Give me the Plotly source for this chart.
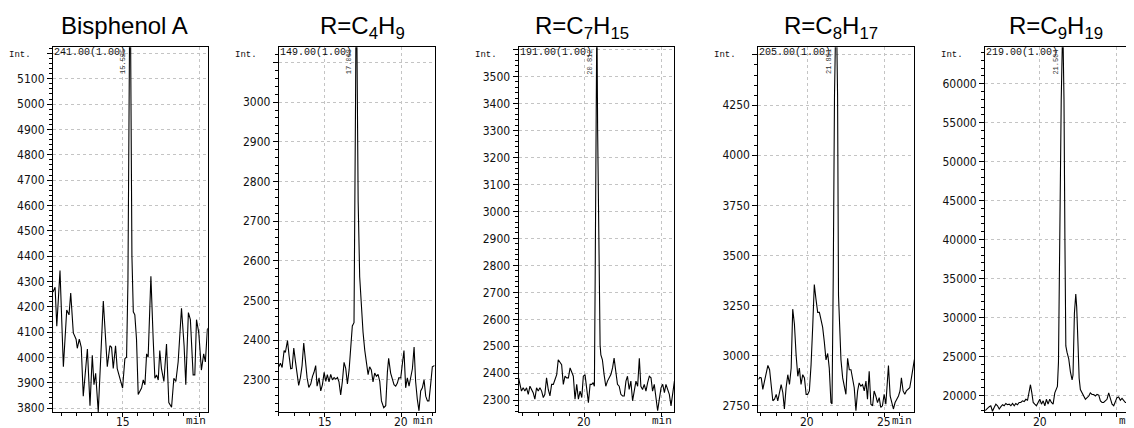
import plotly.graph_objects as go

# ---------------- data ----------------
titles = ["Bisphenol A", "R=C<sub>4</sub>H<sub>9</sub>", "R=C<sub>7</sub>H<sub>15</sub>",
          "R=C<sub>8</sub>H<sub>17</sub>", "R=C<sub>9</sub>H<sub>19</sub>"]
ion_labels = ["241.00(1.00)", "149.00(1.00)", "191.00(1.00)", "205.00(1.00)", "219.00(1.00)"]
peak_labels = ["15.525", "17.068", "20.812", "21.891", "21.504"]
peak_times = [15.49, 17.06, 20.81, 21.89, 21.50]

# Bisphenol A (m/z 241)
t_bpa = [10.45, 10.59, 10.70, 10.91, 11.13, 11.35, 11.50, 11.61, 11.78, 11.96, 12.04, 12.17,
         12.30, 12.43, 12.70, 12.87, 13.02, 13.13, 13.24, 13.41, 13.74, 14.00, 14.17, 14.28,
         14.39, 14.54, 14.65, 14.83, 15.00, 15.15, 15.26, 15.35, 15.43, 15.49, 15.55, 15.61,
         15.70, 15.80, 15.91, 16.02, 16.24, 16.35, 16.46, 16.57, 16.67, 16.85, 17.00, 17.11,
         17.22, 17.33, 17.43, 17.54, 17.70, 17.87, 18.02, 18.20, 18.35, 18.48, 18.63, 18.85,
         19.02, 19.13, 19.30, 19.43, 19.61, 19.72, 19.83, 19.98, 20.15, 20.30, 20.41, 20.54,
         20.65]
i_bpa = [4258, 4277, 4123, 4343, 3963, 4187, 4168, 4254, 4097, 4072, 4036, 4072,
         4040, 3847, 4033, 3809, 4008, 3892, 3937, 3785, 4223, 3963, 4046, 4040,
         3956, 4046, 3956, 3918, 3879, 3995, 4001, 4300, 5000, 5600, 5000, 4400,
         4180, 4168, 4072, 3854, 3879, 3911, 3892, 4014, 4001, 4320, 4072, 3918,
         3931, 3911, 4027, 3956, 3905, 4053, 3822, 3803, 3918, 3905, 3982, 4194,
         4046, 3892, 4177, 4149, 3931, 3931, 4149, 4097, 3950, 4014, 3982, 4110,
         4120]

# R = C4H9 (m/z 149)
t_c4 = [12.00, 12.11, 12.22, 12.35, 12.43, 12.57, 12.67, 12.78, 12.87, 12.98, 13.09, 13.20,
        13.30, 13.41, 13.52, 13.63, 13.74, 13.85, 13.96, 14.09, 14.20, 14.30, 14.41, 14.50,
        14.63, 14.74, 14.85, 14.96, 15.07, 15.17, 15.28, 15.39, 15.50, 15.61, 15.72, 15.83,
        15.93, 16.04, 16.15, 16.26, 16.37, 16.48, 16.59, 16.70, 16.80, 16.91, 16.96, 17.01,
        17.06, 17.11, 17.18, 17.28, 17.39, 17.50, 17.61, 17.72, 17.83, 17.93, 18.04, 18.15,
        18.26, 18.37, 18.48, 18.59, 18.70, 18.85, 18.98, 19.09, 19.17, 19.30, 19.41, 19.52,
        19.63, 19.74, 19.83, 19.96, 20.07, 20.17, 20.28, 20.39, 20.50, 20.61, 20.72, 20.83,
        20.93, 21.04, 21.15, 21.26, 21.37, 21.48, 21.59, 21.70, 21.80, 21.91, 22.02, 22.17]
i_c4 = [2333, 2342, 2331, 2374, 2369, 2399, 2362, 2328, 2329, 2380, 2346, 2309,
        2286, 2305, 2336, 2393, 2346, 2305, 2281, 2290, 2309, 2319, 2336, 2284,
        2305, 2272, 2288, 2319, 2296, 2313, 2295, 2314, 2300, 2306, 2302, 2306,
        2295, 2262, 2296, 2344, 2329, 2290, 2325, 2383, 2436, 2444, 2650, 3000,
        3350, 3050, 2750, 2560, 2470, 2420, 2375, 2340, 2313, 2333, 2325, 2295,
        2317, 2309, 2314, 2296, 2247, 2230, 2235, 2321, 2354, 2317, 2305, 2288,
        2284, 2292, 2305, 2305, 2342, 2374, 2280, 2305, 2284, 2305, 2328, 2383,
        2296, 2251, 2222, 2272, 2280, 2300, 2259, 2247, 2247, 2288, 2333, 2336]

# R = C7H15 (m/z 191)
t_c7 = [15.72, 15.83, 15.91, 16.02, 16.13, 16.24, 16.35, 16.46, 16.57, 16.67, 16.78, 16.89,
        17.00, 17.11, 17.22, 17.33, 17.43, 17.54, 17.65, 17.76, 17.87, 17.98, 18.09, 18.20,
        18.30, 18.41, 18.52, 18.63, 18.74, 18.85, 18.96, 19.07, 19.17, 19.28, 19.39, 19.50,
        19.61, 19.72, 19.83, 19.93, 20.04, 20.15, 20.26, 20.37, 20.48, 20.57, 20.65, 20.70,
        20.76, 20.81, 20.86, 20.92, 20.96, 21.02, 21.07, 21.17, 21.28, 21.39, 21.50, 21.61,
        21.72, 21.83, 21.93, 22.04, 22.15, 22.26, 22.37, 22.48, 22.59, 22.70, 22.80, 22.91,
        23.02, 23.13, 23.24, 23.35, 23.46, 23.57, 23.67, 23.78, 23.89, 24.00, 24.11, 24.22,
        24.33, 24.43, 24.54, 24.65, 24.76, 24.87, 24.98, 25.09, 25.20, 25.30, 25.41, 25.52,
        25.63, 25.74, 25.85]
i_c7 = [2383, 2346, 2334, 2346, 2334, 2346, 2322, 2352, 2340, 2328, 2304, 2346,
        2334, 2346, 2334, 2310, 2322, 2383, 2340, 2316, 2359, 2359, 2377, 2395,
        2450, 2438, 2432, 2359, 2389, 2383, 2383, 2420, 2407, 2389, 2304, 2359,
        2304, 2334, 2310, 2389, 2395, 2334, 2291, 2359, 2359, 2365, 2352, 2750,
        3300, 3750, 3300, 2900, 2760, 2505, 2468, 2450, 2395, 2352, 2371, 2383,
        2395, 2420, 2456, 2407, 2359, 2352, 2322, 2316, 2316, 2371, 2389, 2340,
        2371, 2298, 2334, 2371, 2352, 2456, 2352, 2340, 2359, 2334, 2365, 2389,
        2383, 2334, 2359, 2304, 2261, 2304, 2346, 2359, 2328, 2359, 2340, 2322,
        2279, 2328, 2371]

# R = C8H17 (m/z 205)
t_c8 = [16.84, 16.94, 17.03, 17.13, 17.24, 17.35, 17.46, 17.57, 17.67, 17.78, 17.89, 18.00,
        18.10, 18.21, 18.32, 18.43, 18.53, 18.64, 18.75, 18.86, 18.97, 19.07, 19.18, 19.29,
        19.40, 19.50, 19.61, 19.72, 19.83, 19.94, 20.04, 20.15, 20.26, 20.37, 20.47, 20.58,
        20.69, 20.80, 20.91, 21.01, 21.12, 21.23, 21.34, 21.44, 21.55, 21.62, 21.70, 21.78,
        21.89, 21.98, 22.04, 22.13, 22.20, 22.31, 22.41, 22.52, 22.63, 22.74, 22.85, 22.95,
        23.06, 23.17, 23.28, 23.38, 23.49, 23.60, 23.71, 23.82, 23.92, 24.03, 24.14, 24.25,
        24.35, 24.46, 24.57, 24.68, 24.78, 24.89, 25.00, 25.11, 25.22, 25.28, 25.39, 25.50,
        25.60, 25.71, 25.82, 25.93, 26.03, 26.12, 26.23, 26.34, 26.44, 26.55, 26.66, 26.77,
        26.88, 26.96]
i_c8 = [2881, 2892, 2889, 2832, 2873, 2913, 2951, 2930, 2840, 2775, 2783, 2807,
        2775, 2815, 2856, 2815, 2734, 2840, 2905, 2856, 2938, 3232, 3158, 3003,
        2897, 2938, 2856, 2905, 2889, 2807, 2807, 2824, 2954, 3150, 3355, 3281,
        3216, 3216, 3183, 3142, 3069, 2979, 3011, 2938, 2766, 2760, 3400, 4300,
        4800, 4300, 3300, 3052, 2979, 2889, 2840, 2807, 2987, 2930, 2930, 2889,
        2840, 2725, 2824, 2864, 2848, 2856, 2824, 2873, 2783, 2922, 2758, 2750,
        2824, 2799, 2766, 2791, 2742, 2750, 2807, 2758, 2897, 2951, 2799, 2766,
        2734, 2766, 2783, 2799, 2824, 2889, 2824, 2807, 2824, 2832, 2840, 2889,
        2938, 2980]

# R = C9H19 (m/z 219)
t_c9 = [16.43, 16.59, 16.70, 16.80, 16.91, 17.02, 17.13, 17.24, 17.35, 17.46, 17.57, 17.67,
        17.78, 17.89, 18.00, 18.11, 18.22, 18.33, 18.43, 18.54, 18.65, 18.76, 18.87, 18.98,
        19.09, 19.20, 19.30, 19.39, 19.48, 19.57, 19.67, 19.78, 19.89, 20.00, 20.11, 20.22,
        20.33, 20.43, 20.54, 20.65, 20.76, 20.87, 20.98, 21.09, 21.15, 21.22, 21.30, 21.40,
        21.50, 21.58, 21.64, 21.70, 21.78, 21.89, 22.00, 22.11, 22.17, 22.26, 22.35, 22.41,
        22.50, 22.57, 22.65, 22.76, 22.87, 22.98, 23.09, 23.20, 23.30, 23.41, 23.52, 23.63,
        23.74, 23.85, 23.96, 24.07, 24.17, 24.28, 24.39, 24.50, 24.61, 24.72, 24.83, 24.93,
        25.04, 25.15, 25.26, 25.37, 25.48, 25.59, 25.70, 25.80, 25.91, 26.02, 26.13, 26.30,
        26.60]
i_c9 = [18050, 18380, 18550, 18670, 17970, 18460, 18880, 18670, 18260, 18550, 18800, 18670,
        18960, 18800, 18880, 18670, 18960, 18670, 18960, 18800, 19090, 19090, 19300, 19210,
        19500, 19380, 20540, 21370, 20330, 19090, 18880, 18670, 19090, 19500, 18880, 19300,
        18670, 19500, 18880, 19500, 19090, 18880, 20330, 20750, 21160, 24270, 40000, 58000,
        68000, 58000, 40000, 26350, 25520, 24690, 23030, 21990, 22610, 30500, 33000, 31330,
        26350, 22200, 20750, 20330, 19920, 19500, 19710, 19920, 20330, 20120, 20120, 19920,
        20120, 20040, 19300, 19090, 19090, 19300, 19500, 20330, 19710, 18880, 18670, 19300,
        19710, 19790, 19380, 19630, 19300, 19090, 19090, 19500, 20120, 20330, 20330, 20100,
        19900]

times = [t_bpa, t_c4, t_c7, t_c8, t_c9]
intensities = [i_bpa, i_c4, i_c7, i_c8, i_c9]

# axis tick labels (grid/ticks at all values, text only where shown)
x_tickvals = [[15, 20], [15, 20], [20, 25], [20, 25], [20, 25]]
x_ticktext = [["15", ""], ["15", "20"], ["20", ""], ["20", "25"], ["20", ""]]
y_tickvals = [
    [3800, 3900, 4000, 4100, 4200, 4300, 4400, 4500, 4600, 4700, 4800, 4900, 5000, 5100, 5200],
    [2300, 2400, 2500, 2600, 2700, 2800, 2900, 3000, 3100],
    [2300, 2400, 2500, 2600, 2700, 2800, 2900, 3000, 3100, 3200, 3300, 3400, 3500, 3600],
    [2750, 3000, 3250, 3500, 3750, 4000, 4250, 4500],
    [20000, 25000, 30000, 35000, 40000, 45000, 50000, 55000, 60000],
]
y_ticktext = [
    ["3800", "3900", "4000", "4100", "4200", "4300", "4400", "4500", "4600", "4700", "4800", "4900", "5000", "5100", " "],
    ["2300", "2400", "2500", "2600", "2700", "2800", "2900", "3000", " "],
    ["2300", "2400", "2500", "2600", "2700", "2800", "2900", "3000", "3100", "3200", "3300", "3400", "3500", " "],
    ["2750", "3000", "3250", "3500", "3750", "4000", "4250", " "],
    ["20000", "25000", "30000", "35000", "40000", "45000", "50000", "55000", "60000"],
]

# ---------------- layout (pixels, as seen on screen) ----------------
W, H = 1134, 428
OFF = 8  # default page margin of the html body; positions below are screen pixels
lefts = [53, 279, 519, 759, 986]
rights = [208, 435, 675, 915, 1142]
top_px, bot_px = 43, 415
xranges = [[10.45, 20.57], [12.0, 22.17], [15.72, 25.85], [16.84, 26.95], [16.43, 26.61]]
yranges = [[3783, 5224], [2218, 3138], [2255, 3608], [2717, 4538], [17820, 64660]]
y_minor = [20, 20, 20, 50, 1000]
title_cx = [124.5, 363, 583, 832, 1057]


def px(x):
    return (x - OFF) / W


def py(y):
    return 1 - (y - OFF) / H


TICKFONT = dict(family="Liberation Sans Narrow, DejaVu Sans Condensed, Arial Narrow, sans-serif",
                size=12, color="#111")
MONO = "Liberation Mono, DejaVu Sans Mono, monospace"
GRID = "#c4c4c4"

fig = go.Figure()
annotations = []
layout = {}
for k in range(5):
    sfx = "" if k == 0 else str(k + 1)
    xa, ya = "x" + sfx, "y" + sfx
    fig.add_trace(go.Scatter(x=times[k], y=intensities[k], mode="lines",
                             line=dict(color="black", width=1.1),
                             xaxis=xa, yaxis=ya, showlegend=False, hoverinfo="skip"))
    layout["xaxis" + sfx] = dict(
        domain=[px(lefts[k]), min(1.0, px(rights[k]))], range=xranges[k], anchor=ya,
        tickmode="array", tickvals=x_tickvals[k], showticklabels=False,
        ticks="outside", ticklen=4, tickcolor="black",
        showline=True, linecolor="black", linewidth=1, mirror=True,
        showgrid=True, gridcolor=GRID, griddash="dot", gridwidth=1,
        zeroline=False,
        minor=dict(tick0=0, dtick=1, ticks="outside", ticklen=3, tickcolor="black", showgrid=False),
    )
    layout["yaxis" + sfx] = dict(
        domain=[py(bot_px), py(top_px)], range=yranges[k], anchor=xa,
        tickmode="array", tickvals=y_tickvals[k], ticktext=y_ticktext[k],
        ticks="outside", ticklen=5, tickcolor="black", tickfont=TICKFONT,
        showline=True, linecolor="black", linewidth=1, mirror=True,
        showgrid=True, gridcolor=GRID, griddash="dot", gridwidth=1,
        zeroline=False,
        minor=dict(tick0=0, dtick=y_minor[k], ticks="outside", ticklen=3, tickcolor="black", showgrid=False),
    )
    # x tick labels
    for val, txt in zip(x_tickvals[k], x_ticktext[k]):
        if txt:
            annotations.append(dict(text=txt, xref=xa, yref="paper", x=val,
                                    y=py(bot_px + 1), xanchor="center", yanchor="top",
                                    showarrow=False, font=TICKFONT))
    # chart titles
    annotations.append(dict(text=titles[k], xref="paper", yref="paper",
                            x=px(title_cx[k]), y=py(5), xanchor="center", yanchor="top",
                            showarrow=False,
                            font=dict(family="Liberation Sans, Arial, sans-serif", size=24, color="black")))
    # "Int." label
    annotations.append(dict(text="Int.", xref="paper", yref="paper",
                            x=px(lefts[k] - 20), y=py(51), xanchor="right", yanchor="middle",
                            showarrow=False, font=dict(family=MONO, size=9, color="#111")))
    # ion label
    annotations.append(dict(text=ion_labels[k], xref=xa + " domain", yref=ya + " domain",
                            x=0, y=1, xanchor="left", yanchor="top", xshift=-1, yshift=2,
                            showarrow=False, font=dict(family=MONO, size=10, color="#111")))
    # peak retention time label
    annotations.append(dict(text=peak_labels[k], xref=xa, yref=ya + " domain",
                            x=peak_times[k], y=1, xanchor="right", yanchor="top", textangle=-90,
                            xshift=-1, showarrow=False, font=dict(family=MONO, size=7, color="#333")))
    # "min" label (right-aligned to the plot's right edge)
    annotations.append(dict(text="min", xref="paper", yref="paper",
                            x=px(rights[k]), y=py(bot_px + 1), xanchor="right", yanchor="top",
                            showarrow=False, font=dict(family=MONO, size=11, color="#111")))

fig.update_layout(**layout)
fig.update_layout(width=W, height=H, margin=dict(l=0, r=0, t=0, b=0),
                  paper_bgcolor="white", plot_bgcolor="white",
                  annotations=annotations)
fig.write_html("out.html")
